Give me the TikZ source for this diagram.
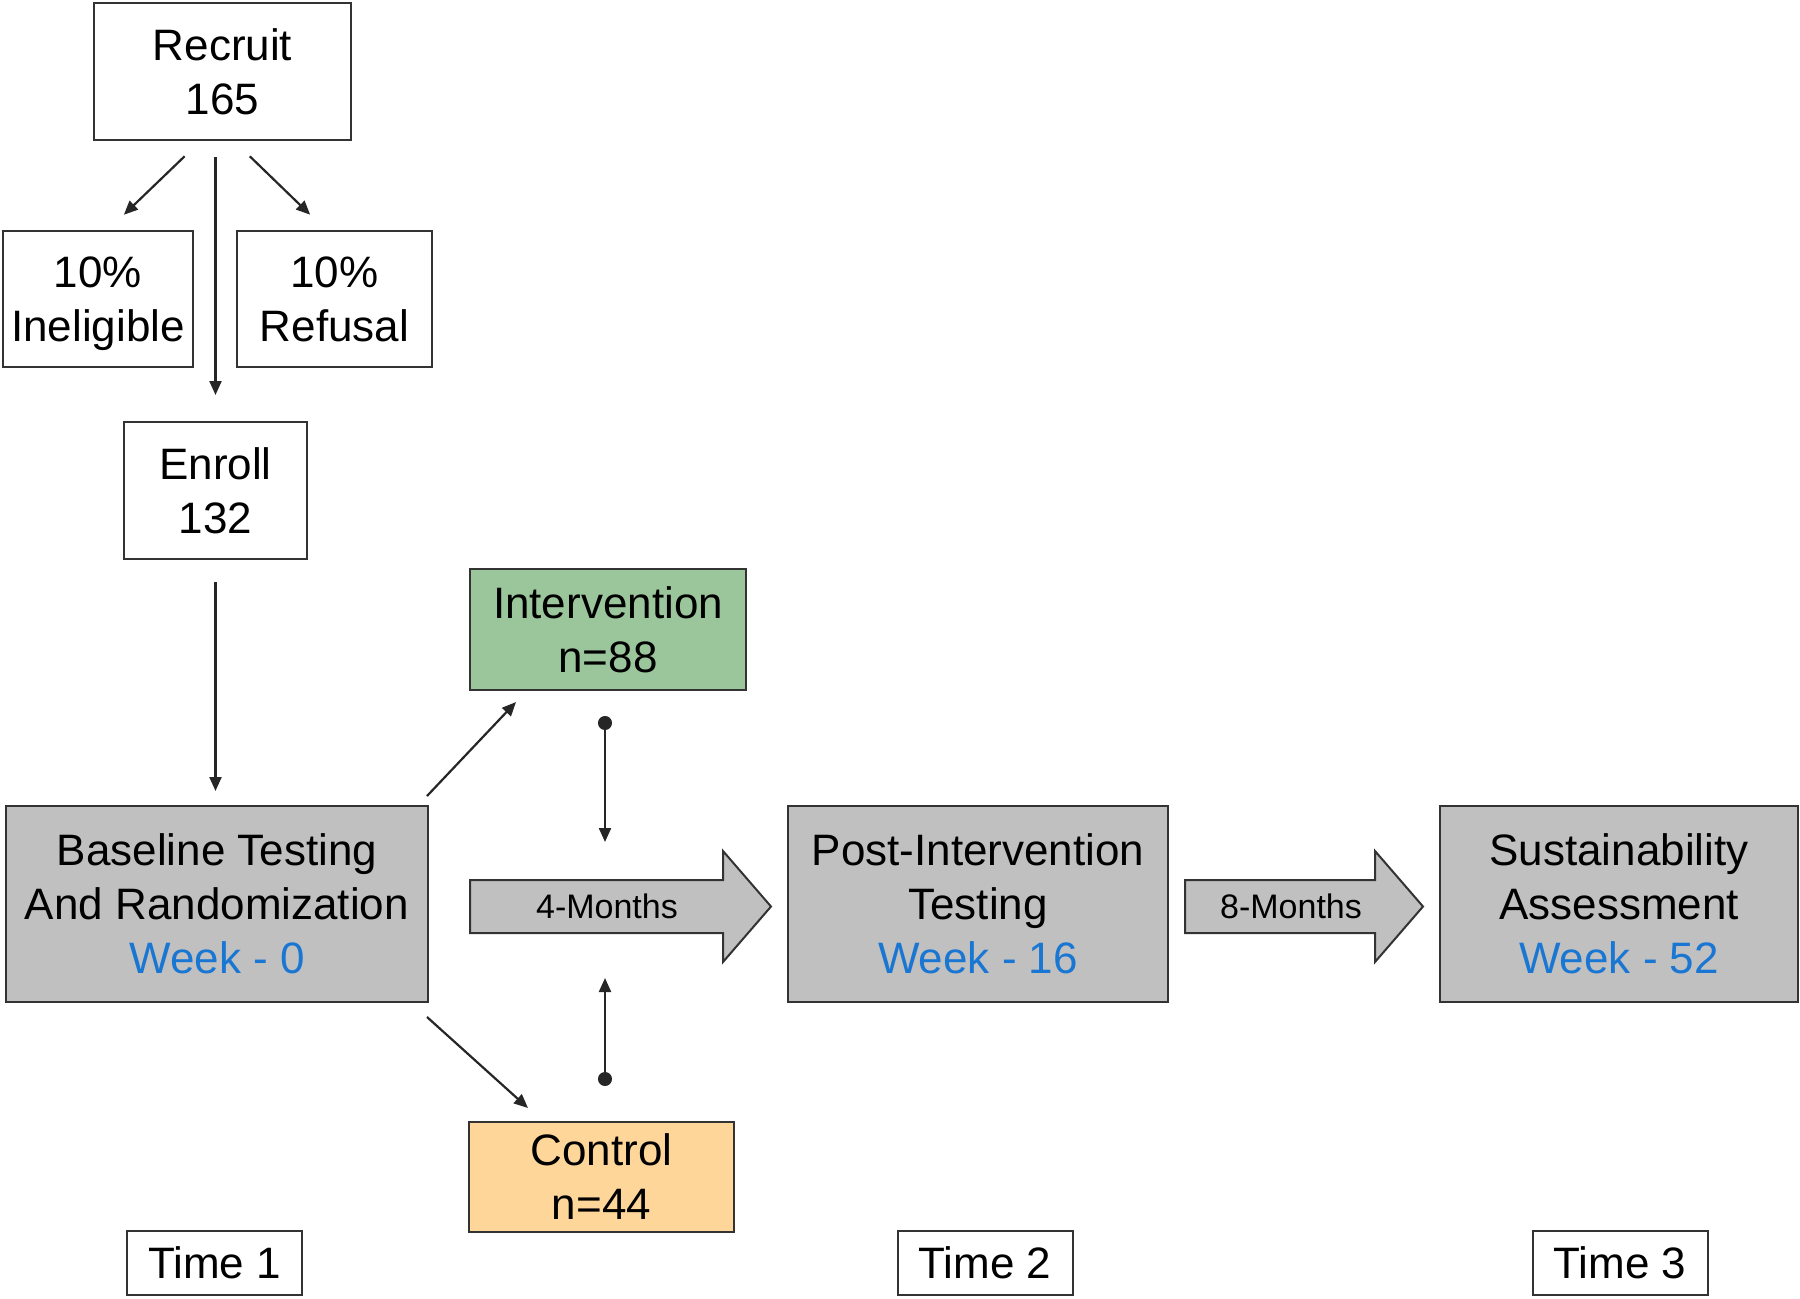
\documentclass[tikz,border=0pt]{standalone}
\usepackage{fontspec}
\setmainfont{Liberation Sans}
\usetikzlibrary{shapes,arrows.meta}

\definecolor{boxgray}{RGB}{192,192,192}
\definecolor{intgreen}{RGB}{155,197,155}
\definecolor{ctrlorange}{RGB}{255,214,153}
\definecolor{weekblue}{RGB}{25,118,210}

\tikzset{
  box/.style={draw=black!80, line width=1pt, fill=white, align=center, inner sep=0pt,
    text depth=0pt, font=\fontsize{22}{27}\selectfont},
  stage/.style={box, fill=boxgray, minimum height=98pt},
  timebox/.style={box, minimum width=87.5pt, minimum height=32pt},
  arr/.style={-{Triangle[length=7pt,width=6pt]}, line width=1.1pt, draw=black!85},
  dotarr/.style={{Circle[length=7pt]}-{Triangle[length=7pt,width=6pt]}, line width=1.1pt, draw=black!85},
  blk/.style={draw=black!80, line width=1pt, fill=boxgray},
  blklabel/.style={inner sep=0pt, font=\fontsize{17}{20}\selectfont}
}
\newcommand{\wk}[1]{\textcolor{weekblue}{Week - #1}}

\begin{document}
\begin{tikzpicture}[x=0.5pt,y=-0.5pt]
\useasboundingbox (0,0) rectangle (1800,1298);

% recruitment
\node[box, minimum width=128.5pt, minimum height=68.5pt] (recruit) at (222.5,71.5) {Recruit\\165};
\node[box, minimum width=95pt, minimum height=68pt] (inel) at (98,299) {10\%\\Ineligible};
\node[box, minimum width=97.5pt, minimum height=68pt] (refus) at (334.5,299) {10\%\\Refusal};
\node[box, minimum width=91.5pt, minimum height=68.5pt] (enroll) at (215.5,490.5) {Enroll\\132};

% stages
\node[stage, minimum width=211pt] (base) at (217,904) {Baseline Testing\\And Randomization\\\wk{0}};
\node[stage, minimum width=190pt] (post) at (978,904) {Post-Intervention\\Testing\\\wk{16}};
\node[stage, minimum width=179pt] (sust) at (1619,904) {Sustainability\\Assessment\\\wk{52}};

% groups
\node[box, fill=intgreen, minimum width=138pt, minimum height=60.5pt] (interv) at (608,629.5) {Intervention\\n=88};
\node[box, fill=ctrlorange, minimum width=132.5pt, minimum height=55pt] (ctrl) at (601.5,1177) {Control\\n=44};

% block arrows
\draw[blk] (470,880) -- (723,880) -- (723,851) -- (771,906.5) -- (723,962) -- (723,933) -- (470,933) -- cycle;
\node[blklabel] (m4) at (607,906.5) {4-Months};
\draw[blk] (1185,880) -- (1375,880) -- (1375,851) -- (1423,906.5) -- (1375,962) -- (1375,933) -- (1185,933) -- cycle;
\node[blklabel] (m8) at (1291,906.5) {8-Months};

% time labels
\node[timebox] (t1) at (214.5,1263) {Time 1};
\node[timebox] (t2) at (985,1263) {Time 2};
\node[timebox] (t3) at (1620,1263) {Time 3};

% connectors
\coordinate (tipA) at (605,842);
\coordinate (tipB) at (605,978);
\draw[arr, shorten <=11pt, shorten >=11pt] ([xshift=-11pt]recruit.south) -- ([xshift=5pt]inel.north);
\draw[arr, shorten <=11pt, shorten >=11pt] ([xshift=5.75pt]recruit.south) -- ([xshift=-4.25pt]refus.north);
\draw[arr, shorten <=8pt, shorten >=13pt] (recruit.south -| enroll.north) -- (enroll.north);
\draw[arr, shorten <=11pt, shorten >=7pt] (enroll.south) -- (enroll.south |- base.north);
\draw[arr] ([xshift=-1pt,yshift=4.5pt]base.north east) -- ([xshift=23.5pt,yshift=-5.5pt]interv.south west);
\draw[arr] ([xshift=-1pt,yshift=-7pt]base.south east) -- ([xshift=30pt,yshift=6.5pt]ctrl.north west);
\draw[dotarr, shorten <=12.5pt] (interv.south -| tipA) -- (tipA);
\draw[dotarr, shorten <=17.5pt] (ctrl.north -| tipB) -- (tipB);
\end{tikzpicture}
\end{document}
